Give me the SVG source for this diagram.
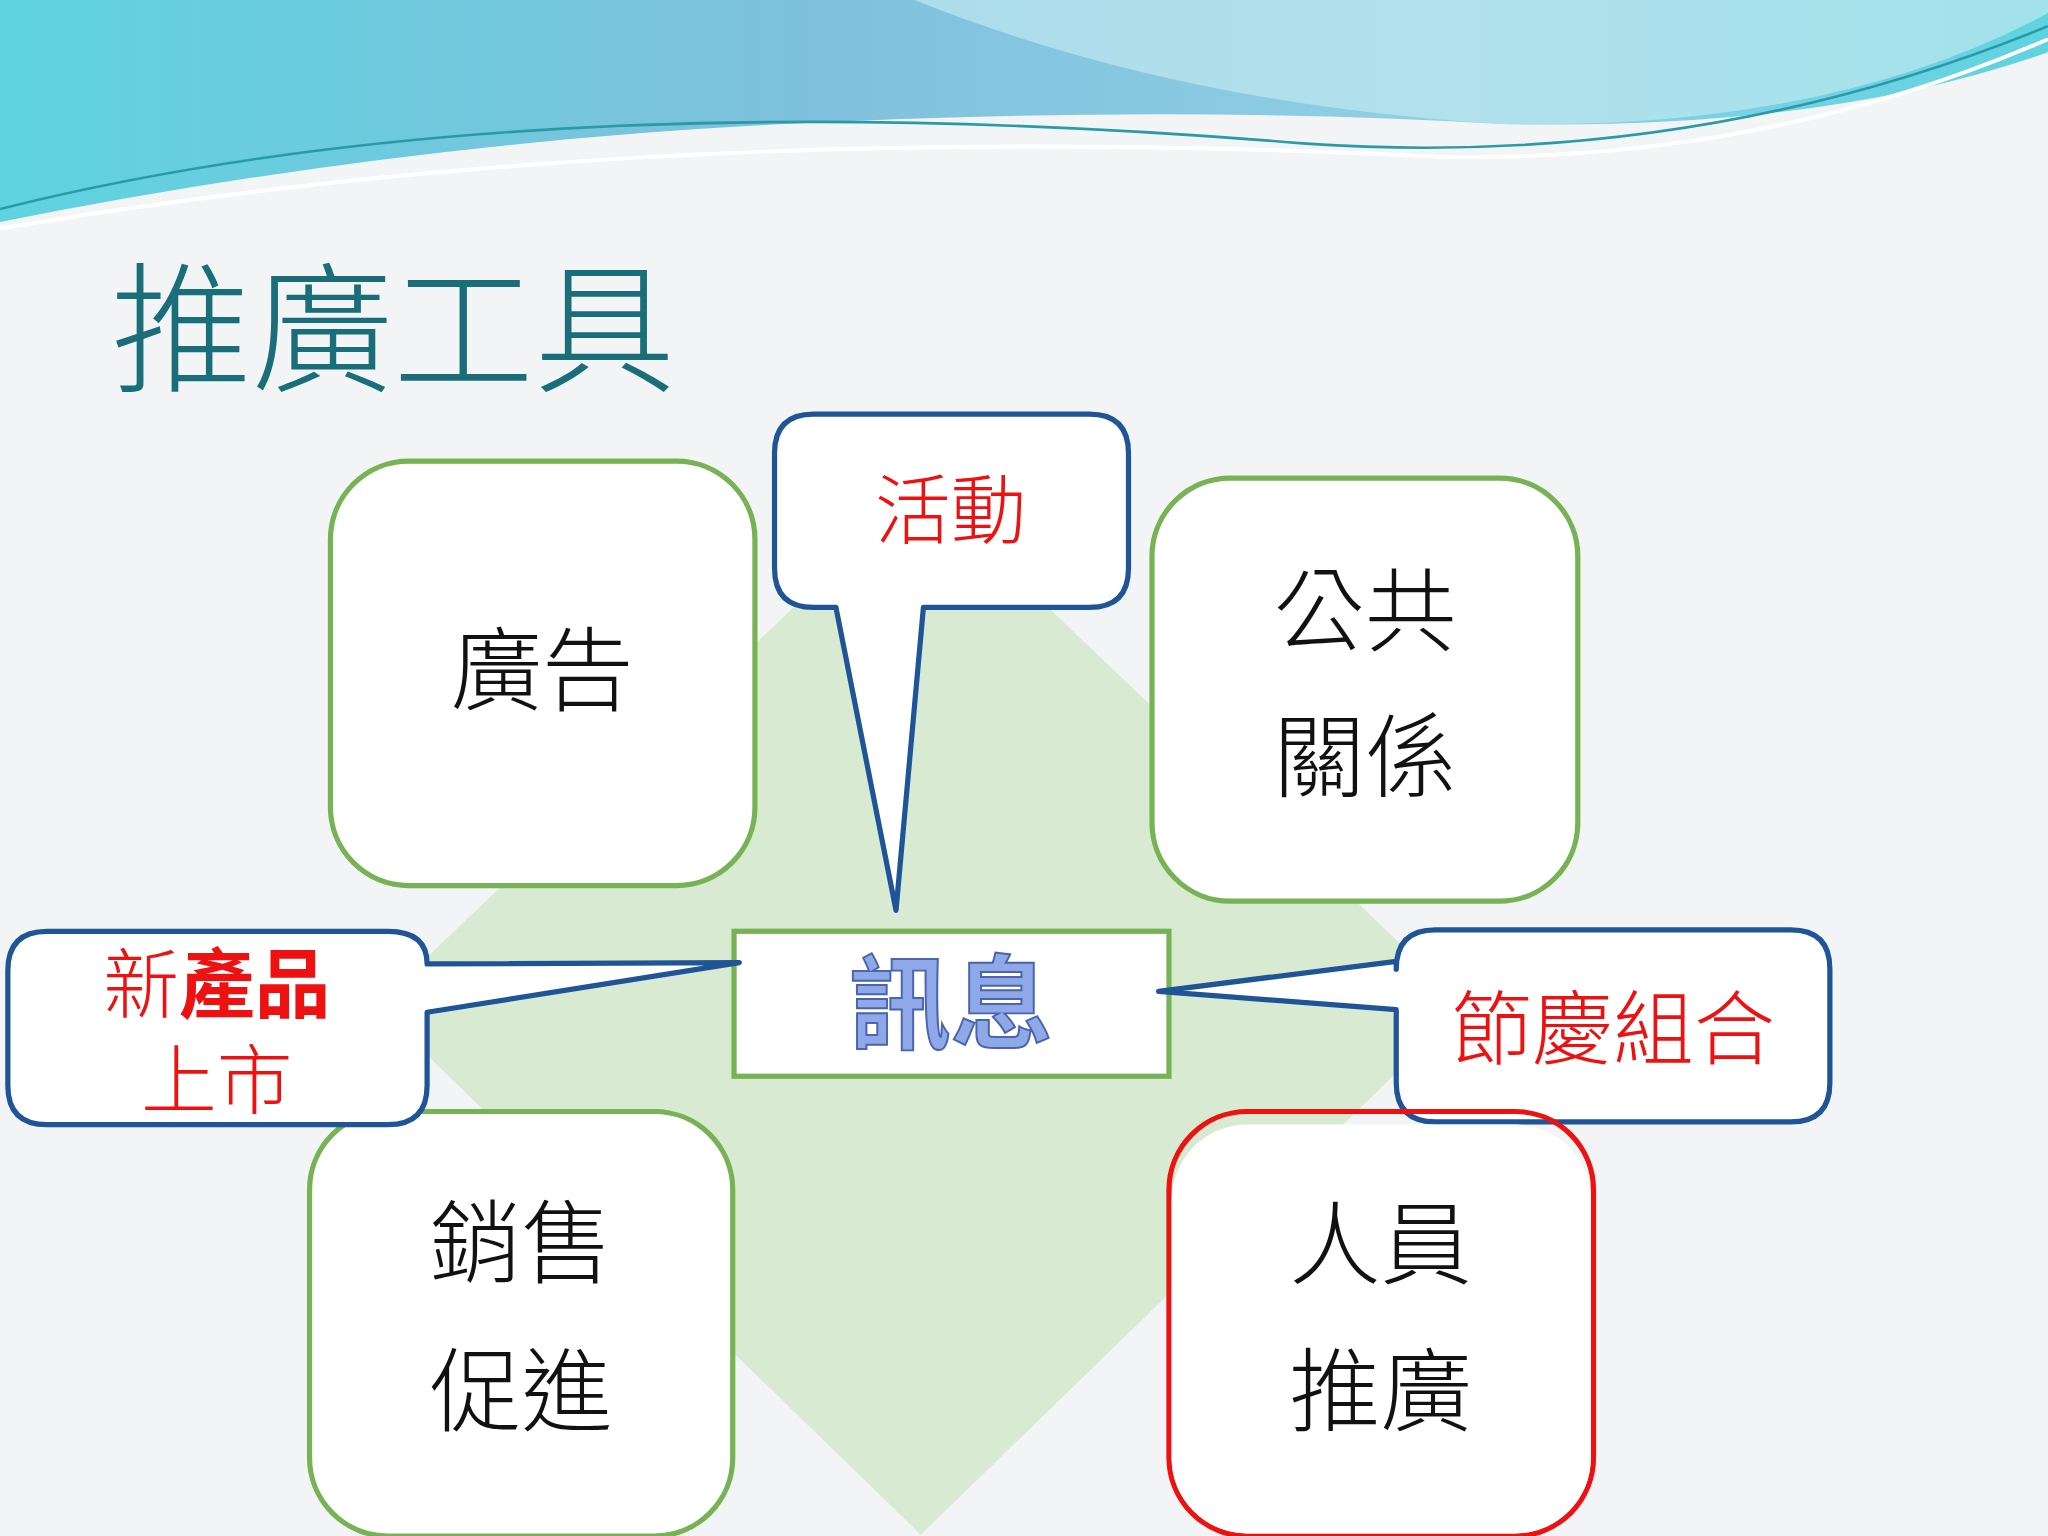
<svg xmlns="http://www.w3.org/2000/svg" width="2048" height="1536" viewBox="0 0 2048 1536">
<defs>
<linearGradient id="wv" x1="0" y1="0" x2="1" y2="0">
<stop offset="0" stop-color="#5fd3e0"/><stop offset="0.4" stop-color="#7fc0dc"/><stop offset="0.7" stop-color="#8fd0e6"/><stop offset="1" stop-color="#5fd3e0"/>
</linearGradient>
<style>
.box{fill:#fff;stroke:#77b354;stroke-width:4}
.call{fill:#fff;stroke:#1f5597;stroke-width:4;stroke-linejoin:round}
.t{font-family:"Noto Sans CJK TC","Noto Sans CJK SC",sans-serif;text-anchor:middle;font-weight:300}
.bt{font-size:70px;fill:#111}
.rt{font-size:58px;fill:#ee1111}
</style>
</defs>
<rect width="2048" height="1536" fill="#f3f4f5"/>
<g transform="scale(1.30612)">
<g id="wave">
<path d="M0,0 H1568 V40 Q1400,100 1150,95 Q900,80 600,95 Q300,110 0,170 Z" fill="url(#wv)"/>
<path d="M700,0 Q900,80 1150,95 Q1400,100 1568,10 V0 Z" fill="#bfe8ef" opacity="0.7"/>
<path d="M0,160 Q400,60 1000,110 Q1300,130 1568,20" fill="none" stroke="#2a9aa8" stroke-width="2"/>
<path d="M0,175 Q500,90 1100,120 Q1350,125 1568,30" fill="none" stroke="#ffffff" stroke-width="3"/>
</g>
<text id="title" x="85" y="292" class="t" style="text-anchor:start;font-size:108px;fill:#1a6e7a">推廣工具</text>
<polygon id="diamond" points="705,372 1122,770 705,1175 288,770" fill="#d9ead3"/>
<g id="ad"><rect class="box" x="253" y="353" width="325" height="325" rx="60"/><text class="t bt" x="415" y="538">廣告</text></g>
<g id="pr"><rect class="box" x="882" y="366" width="326" height="324" rx="60"/><text class="t bt" x="1045" y="493">公共</text><text class="t bt" x="1045" y="605">關係</text></g>
<g id="sp"><rect class="box" x="237" y="851" width="324" height="325" rx="60"/><text class="t bt" x="399" y="977">銷售</text><text class="t bt" x="399" y="1090">促進</text></g>
<g id="msg"><rect x="562" y="713" width="333" height="111" fill="#fff" stroke="#77b354" stroke-width="4"/><text class="t" x="728" y="797" style="font-size:78px;fill:#8fa8e8;stroke:#4a64b0;stroke-width:1.5;font-weight:bold">訊息</text></g>
<g id="connectors">
<g id="c1"><path class="call" d="M623,317 H834 Q864,317 864,347 V435 Q864,465 834,465 H707 L686,697 L640,465 H623 Q593,465 593,435 V347 Q593,317 623,317 Z"/><text class="t rt" x="728" y="412">活動</text></g>
<g id="c2"><path class="call" d="M36,713 H297 Q327,713 327,738 L566,737 L327,775 V831 Q327,861 297,861 H36 Q6,861 6,831 V743 Q6,713 36,713 Z"/><text class="t rt" x="166" y="775">新<tspan font-weight="bold">產品</tspan></text><text class="t rt" x="166" y="848">上市</text></g>
<g id="c3"><path class="call" d="M1099,712 H1371 Q1401,712 1401,742 V829 Q1401,859 1371,859 H1099 Q1069,859 1069,829 V773 L887,759 L1069,736 V742 Q1069,712 1099,712 Z"/><text class="t rt" x="1235" y="810" style="font-size:62px">節慶組合</text></g>
</g>
<g id="ps"><rect x="895" y="851" width="325" height="325" rx="60" fill="none" stroke="#ee1111" stroke-width="4"/><rect x="897" y="861" width="321" height="313" rx="58" fill="#fff"/><text class="t bt" x="1057" y="978">人員</text><text class="t bt" x="1057" y="1090">推廣</text></g>
</g>
</svg>
